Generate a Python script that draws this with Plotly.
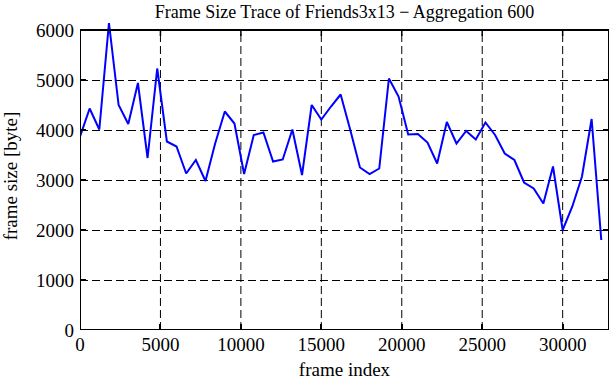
import plotly.graph_objects as go

step = 600
frame_size = [3866, 4430, 4010, 6140, 4500, 4120, 4940, 3440, 5230, 3770,
              3670, 3130, 3400, 2980, 3730, 4370, 4130, 3120, 3900, 3950,
              3370, 3410, 4010, 3100, 4500, 4210, 4470, 4710, 4000, 3250,
              3120, 3230, 5030, 4670, 3910, 3920, 3750, 3330, 4160, 3730,
              3980, 3810, 4150, 3900, 3530, 3400, 2950, 2830, 2530, 3270,
              2000, 2470, 3070, 4220, 1800]
frame_index = [i * step for i in range(len(frame_size))]

x_ticks = [0, 5000, 10000, 15000, 20000, 25000, 30000]
y_ticks = [0, 1000, 2000, 3000, 4000, 5000, 6000]
x_max = 32880
y_top = 6000
y_range_top = 6160  # leaves room for the peak drawn above the frame

font = "Liberation Serif"
dash = "8px,4px"

fig = go.Figure()
fig.add_trace(go.Scatter(
    x=frame_index, y=frame_size, mode="lines",
    line=dict(color="#0000ff", width=2), showlegend=False, hoverinfo="skip"))
fig.add_trace(go.Scatter(
    x=[0], y=[0], yaxis="y2", mode="markers", marker=dict(opacity=0),
    showlegend=False, hoverinfo="skip"))

tick_style = dict(ticks="inside", ticklen=6, tickwidth=1.5, tickcolor="black",
                  tickfont=dict(family=font, size=19, color="black"))

fig.update_layout(
    width=611, height=380,
    margin=dict(l=80, r=2, t=22, b=50),
    paper_bgcolor="white", plot_bgcolor="white",
    title=dict(text="Frame Size Trace of Friends3x13 \u2212 Aggregation 600",
               font=dict(family=font, size=18, color="black"),
               x=0.5, xref="paper", y=1 - 11.5 / 380, yanchor="middle",
               automargin=False),
    xaxis=dict(range=[0, x_max], tickvals=x_ticks, tickformat="d",
               showline=False, showgrid=False, zeroline=False, automargin=False,
               ticklabelstandoff=1,
               title=dict(text="frame index", font=dict(family=font, size=19, color="black"),
                          standoff=9),
               **tick_style),
    yaxis=dict(range=[0, y_range_top], tickvals=y_ticks, tickformat="d",
               showline=False, showgrid=True, gridcolor="black", griddash=dash,
               gridwidth=1, zeroline=False, automargin=False,
               ticklabelstandoff=5,
               title=dict(text="frame size [byte]", font=dict(family=font, size=19, color="black"),
                          standoff=13),
               **tick_style),
    yaxis2=dict(range=[0, y_range_top], tickvals=y_ticks, overlaying="y", side="right",
                showticklabels=False, showgrid=False, zeroline=False, showline=False,
                automargin=False, ticks="inside", ticklen=6, tickwidth=1.5, tickcolor="black"),
)

shapes = []
# vertical dashed grid lines, stopping at the frame top
for xt in x_ticks[1:]:
    shapes.append(dict(type="line", xref="x", yref="y", x0=xt, x1=xt, y0=0, y1=y_top,
                       line=dict(color="black", width=1, dash=dash), layer="below"))
# top mirrored ticks
tick_len_units = 6 * y_range_top / 308
for xt in x_ticks[1:]:
    shapes.append(dict(type="line", xref="x", yref="y", x0=xt, x1=xt, y0=y_top,
                       y1=y_top - tick_len_units, line=dict(color="black", width=1.5)))
# frame
shapes.append(dict(type="rect", xref="x", yref="y", x0=0, x1=x_max, y0=0, y1=y_top,
                   line=dict(color="black", width=2), fillcolor="rgba(0,0,0,0)"))
fig.update_layout(shapes=shapes)

fig.write_html("out.html", config={"displayModeBar": False},
               post_script="document.body.style.margin='0px';")
